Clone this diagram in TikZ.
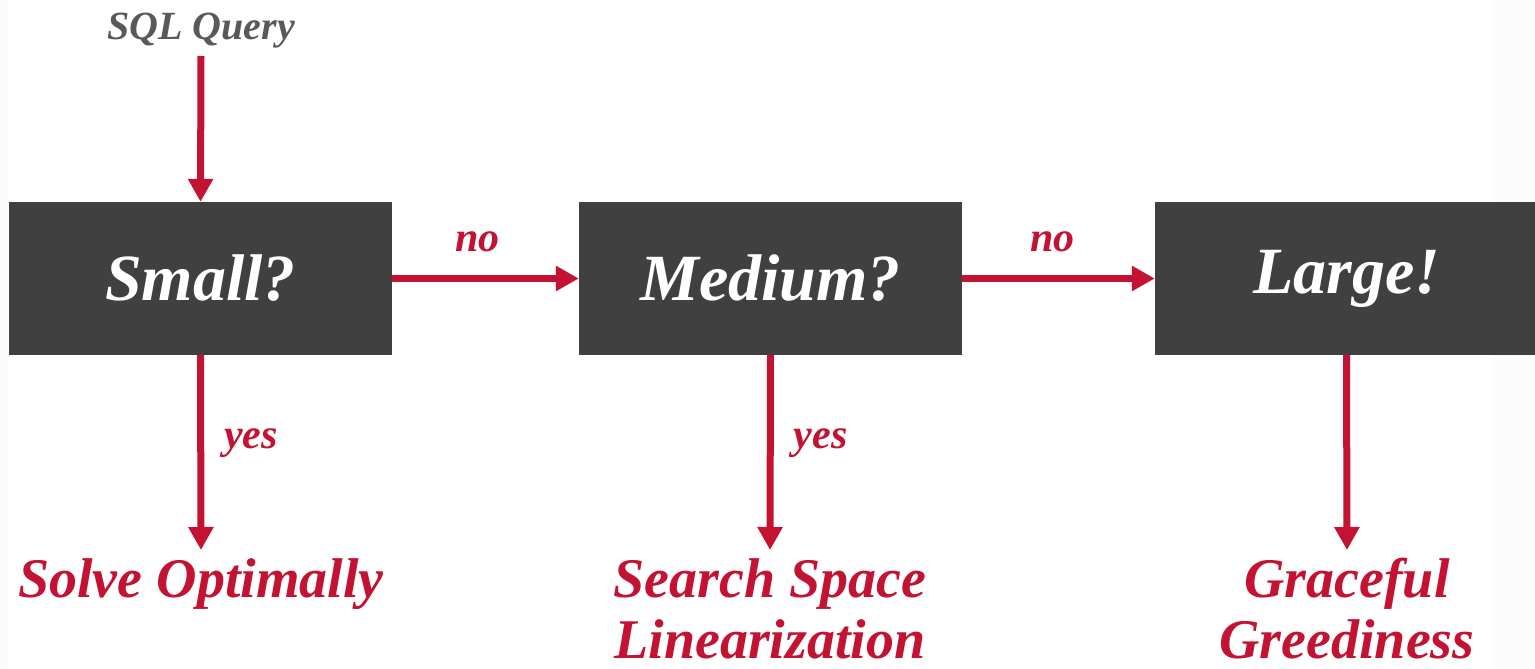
\documentclass[tikz,border=0pt]{standalone}
\usepackage{fontspec}
\setmainfont{Liberation Serif}
\usetikzlibrary{arrows.meta}
\definecolor{boxgray}{HTML}{404040}
\definecolor{flowred}{HTML}{C41232}
\definecolor{qgray}{HTML}{595959}
\tikzset{
  decision/.style={fill=boxgray, text=white, minimum width=383pt, minimum height=153pt,
    inner sep=0pt, font=\fontsize{66}{70}\selectfont\bfseries\itshape},
  flow/.style={draw=flowred, line width=7pt, -{Triangle[length=23pt,width=24pt]}},
  edgelabel/.style={text=flowred, font=\fontsize{42}{46}\selectfont\bfseries\itshape, inner sep=0pt},
  outcome/.style={text=flowred, align=center, inner sep=0pt, anchor=base,
    font=\fontsize{56}{65}\selectfont\bfseries\itshape},
}
\begin{document}
\begin{tikzpicture}[x=1pt,y=-1pt]
  \useasboundingbox (0,0) rectangle (1535,669);
  \fill[white] (0,0) rectangle (1535,669);
  \fill[black!2] (0,0) rectangle (8,669);
  \fill[black!1] (1493,0) rectangle (1535,669);

  % input
  \node[text=qgray, font=\fontsize{40}{44}\selectfont\bfseries\itshape, inner sep=0pt, anchor=base]
    (query) at (201,40) {SQL Query};

  % decision boxes
  \node[decision] (small)  at (200.5,278.5) {Small?};
  \node[decision] (medium) at (770.5,278.5) {Medium?};
  \node[decision] (large)  at (1346.5,278.5) {Large!};

  % outcomes
  \node[outcome] (solve)  at (201,597) {Solve Optimally};
  \node[outcome] (search) at (770,597) {Search Space};
  \node[outcome] (lin)    at (770,658) {Linearization};
  \node[outcome] (grace)  at (1347,597) {Graceful};
  \node[outcome] (greed)  at (1347,658) {Greediness};

  % arrow end points just above the outcome texts
  \coordinate (solvetop)  at (201,550);
  \coordinate (searchtop) at (770,550);
  \coordinate (gracetop)  at (1347,550);
  \coordinate (querybot)  at (201,56);

  % connectors
  \draw[flow] (querybot) -- (small.north);
  \draw[flow] (small.east) -- node[edgelabel, above=23pt, xshift=-8pt] {no} (medium.west);
  \draw[flow] (medium.east) -- node[edgelabel, above=23pt, xshift=-6pt] {no} (large.west);
  \draw[flow] (small.south) -- node[edgelabel, right=20pt, pos=0.45] {yes} (solvetop);
  \draw[flow] (medium.south) -- node[edgelabel, right=20pt, pos=0.45] {yes} (searchtop);
  \draw[flow] (large.south) -- (gracetop);
\end{tikzpicture}
\end{document}
